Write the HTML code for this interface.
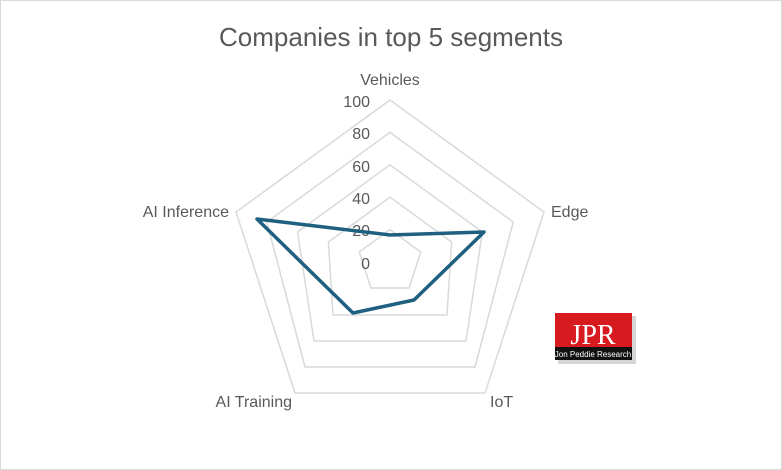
<!DOCTYPE html>
<html><head><style>
body{margin:0;background:#fff;}
svg{display:block;font-family:"Liberation Sans",sans-serif;}
</style></head><body>
<svg width="782" height="470" viewBox="0 0 782 470">
<rect x="0.5" y="0.5" width="781" height="469" fill="#fff" stroke="#d9d9d9"/>
<text x="391" y="46" text-anchor="middle" font-size="26" fill="#595959">Companies in top 5 segments</text>
<g fill="none" stroke="#d9d9d9" stroke-width="1.5">
<polygon points="390,100 544,212 485,393 295,393 236,212"/>
<polygon points="390,132.4 513.2,222 475,367 305,367 266.8,222"/>
<polygon points="390,164.8 482.4,232 466,341 314,341 297.6,232"/>
<polygon points="390,197.2 451.6,242 447,315 333,315 328.4,242"/>
<polygon points="390,229.6 420.8,252 409,288 371,288 359.2,252"/>
</g>
<g font-size="16" fill="#595959" text-anchor="end">
<text x="370" y="107">100</text>
<text x="370" y="139">80</text>
<text x="370" y="172">60</text>
<text x="370" y="204">40</text>
<text x="370" y="236">20</text>
<text x="370" y="269">0</text>
</g>
<g font-size="16" fill="#595959">
<text x="390" y="85" text-anchor="middle">Vehicles</text>
<text x="551" y="217">Edge</text>
<text x="490" y="407">IoT</text>
<text x="292" y="407" text-anchor="end">AI Training</text>
<text x="229" y="217" text-anchor="end">AI Inference</text>
</g>
<polygon points="390,235 484,232 414,300 353,313 257,219" fill="none" stroke="#1f5f80" stroke-width="3.5" stroke-linejoin="round"/>
<rect x="558" y="316" width="78" height="48" fill="#888" opacity="0.35"/>
<rect x="555" y="313" width="77" height="34" fill="#d71920"/>
<rect x="555" y="347" width="77" height="13" fill="#111"/>
<text x="593" y="344" text-anchor="middle" font-family="Liberation Serif,serif" font-size="28" fill="#fff">JPR</text>
<text x="593" y="357" text-anchor="middle" font-size="8" fill="#fff">Jon Peddie Research</text>
</svg>
</body></html>
